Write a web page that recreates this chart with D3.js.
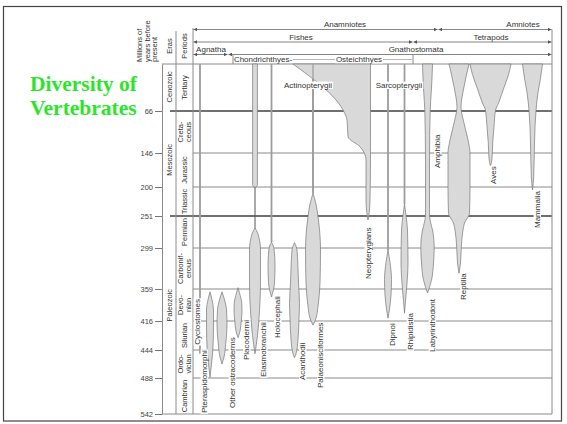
<!DOCTYPE html>
<html><head><meta charset="utf-8">
<script src="https://cdn.jsdelivr.net/npm/d3@7"></script>
<style>
html,body{margin:0;padding:0;background:#fff;}
svg{display:block;}
text{font-family:"Liberation Sans",Arial,sans-serif;}
</style></head><body>
<svg id="chart" width="567" height="424"></svg>
<script>
// ---------------- DATA ----------------
const tickAges = [0, 66, 146, 200, 251, 299, 359, 416, 444, 488, 542];
const tickLabels = ["0", "66", "146", "200", "251", "299", "359", "416", "444", "488", "542"];
const eraBoundaries = [66, 251];
const eraNames = ["Cenozoic", "Mesozoic", "Paleozoic"];
const eraLabelAges = [32, 157, 388];
const periodNames = [["Tertiary"], ["Creta-", "ceous"], ["Jurassic"], ["Triassic"], ["Permian"],
  ["Carbonif-", "erous"], ["Devo-", "nian"], ["Silurian"], ["Ordo-", "vician"], ["Cambrian"]];
const periodSpans = [[0, 66], [66, 146], [146, 200], [200, 251], [251, 299], [299, 359], [359, 416], [416, 444], [444, 488], [488, 542]];

// header groupings (in column units)
const headerNames = ["Anamniotes", "Amniotes", "Fishes", "Tetrapods", "Agnatha", "Gnathostomata"];
const headerRows = [0, 0, 1, 1, 2, 2];
const headerFrom = [0, 245, 0, 220, 0, 35];
const headerTo = [245, 359, 220, 359, 35, 359];
const headerLabelAt = [152, 330, 108, 298, 18, 223];

// lineages
const lineageNames = ["Cyclostomes", "Pteraspidomorphi", "Other ostracoderms", "Placodermi", "Elasmobranchii",
  "Holocephali", "Acanthodii", "Palaeonisciformes", "Neopterygians", "Dipnoi", "Rhipidistia",
  "Labyrinthodont", "Reptilia", "Aves", "Mammalia"];
const lineageColumn = [7, 17, 29, 45, 62, 78.5, 101.5, 120, 175, 195, 211.5, 234.5, 266, 297.5, 339.5];

// thin stem lines [from Ma, to Ma]
const stemNames = ["Cyclostomes", "Holocephali", "Palaeonisciformes", "Dipnoi", "Rhipidistia"];
const stemRanges = [[0, 450], [0, 290], [0, 211], [0, 302], [0, 230]];

// diversity profiles: [age Ma, half-width] (or [age, left, right])
const profPteraspidomorphi = [[364, 0], [378, 2], [396, 3.5], [422, 3.5], [444, 2.8], [466, 1.5], [487, 0]];
const profOstracoderms = [[364, 0], [375, 2], [396, 4.5], [420, 5], [437, 3.8], [455, 2], [466, 0]];
const profPlacodermi = [[357, 0], [366, 1.5], [385, 3.8], [400, 4], [416, 3.2], [426, 2], [432, 0]];
const profElasmoModern = [[0, 2.4], [196, 2.4], [199, 1.6], [200.5, 0]];
const profElasmobranchii = [[269, 0], [277, 2.8], [302, 5.5], [350, 5.5], [411, 4], [430, 2.5], [450, 0]];
const profHolocephali = [[290, 0], [300, 2.5], [324, 3.5], [350, 3], [373, 0]];
const profAcanthodii = [[291, 0], [302, 2.5], [350, 4], [385, 5], [411, 4.5], [434, 3.5], [450, 1.5], [456, 0]];
const profPalaeonisciformes = [[211, 0], [230, 3], [252, 5], [302, 7.5], [350, 7], [390, 5], [411, 3], [420, 0]];
const profNeopterygians = [[0, 75, 2.5], [64.6, 25, 2.5], [83, 21, 2.5], [115, 20, 2.5], [134, 8, 2.5], [157, 2, 2.5], [223, 2, 2], [245, 1.2, 1.2], [257, 0, 0]];
const profDipnoi = [[302, 0], [320, 2], [345, 3.5], [370, 3], [395, 1.5], [411, 0]];
const profRhipidistia = [[230, 0], [250, 1.5], [272, 3], [321, 3.5], [340, 3], [361, 2], [380, 1], [402, 0]];
const profAmphibia = [[0, 5], [20, 4.5], [41, 3.7], [65, 2.7], [159, 2], [240, 2], [250, 2], [262, 3.3], [272, 5], [298, 6.7], [321, 6], [346, 4], [366, 0]];
const profReptilia = [[0, 10], [32, 5], [61, 2], [77, 3.5], [121, 9], [146, 11], [200, 11], [246, 10.5], [261.5, 5.5], [272, 4], [297.5, 2.3], [321, 1.5], [336, 0]];
const profAves = [[0, 20.5], [15, 18], [35, 13], [55, 8], [65, 5], [96, 3.5], [127, 2.2], [155, 1.5], [167, 0]];
const profMammalia = [[0, 10], [20, 8], [40, 5.5], [65, 3.5], [127, 2], [184, 1.2], [205, 0]];

// label placement: [name, column, age at label start]
const spindleLabels = [["Cyclostomes", 4, 439], ["Pteraspidomorphi", 11, 540.5], ["Other ostracoderms", 39, 533],
  ["Placodermi", 53.5, 459.7], ["Elasmobranchii", 70.5, 486.4], ["Holocephali", 84.5, 432.4],
  ["Acanthodii", 109.5, 491], ["Palaeonisciformes", 127.5, 503], ["Neopterygians", 175, 344.4],
  ["Dipnoi", 199.5, 440.1], ["Rhipidistia", 217, 444], ["Labyrinthodont", 239, 447.1],
  ["Amphibia", 244.5, 169.8], ["Reptilia", 270.5, 378.6], ["Aves", 300.5, 195.2], ["Mammalia", 344, 269]];

// ---------------- DRAW ----------------
const svg = d3.select("#chart");
const y = d3.scaleLinear().domain(tickAges).range([64, 111, 153, 187, 216, 248, 289, 321, 350, 378, 414]);
const x = d3.scaleLinear().domain([0, 359]).range([193, 552]);
const w = v => x(v) - x(0);
const LINE = "#8a8a8a";

function label(g, txt, px, py, rot, anchor, size, bg) {
  const lg = g.append("g").attr("transform", `translate(${px},${py})` + (rot ? " rotate(-90)" : ""));
  const r = lg.append("rect").attr("fill", "#fff");
  const t = lg.append("text").attr("text-anchor", anchor).attr("dy", "0.35em")
    .style("font-size", size + "px").attr("fill", "#333").text(txt);
  if (bg) {
    const b = t.node().getBBox();
    r.attr("x", b.x - 0.8).attr("y", b.y + 0.8).attr("width", b.width + 1.6).attr("height", Math.max(0, b.height - 1.6));
  } else r.remove();
  return lg;
}

// frame
svg.append("rect").attr("x", 3.5).attr("y", 6.5).attr("width", 558).attr("height", 414.5)
  .attr("fill", "none").attr("stroke", "#444").attr("stroke-width", 1.2);

// title
const title = svg.append("text").attr("fill", "#2be52b")
  .style("font-family", "'Liberation Serif','Times New Roman',serif").style("font-weight", "bold").style("font-size", "21.5px");
title.append("tspan").attr("x", 30).attr("y", 90.5).text("Diversity of");
title.append("tspan").attr("x", 30).attr("y", 114.5).text("Vertebrates");

// grid lines
const grid = svg.append("g");
tickAges.slice(1, -1).forEach(a => {
  const major = eraBoundaries.includes(a);
  grid.append("line").attr("x1", major ? 170 : x(0)).attr("x2", x(359))
    .attr("y1", y(a)).attr("y2", y(a))
    .attr("stroke", major ? "#707070" : LINE).attr("stroke-width", major ? 2.2 : 1);
});
grid.append("line").attr("x1", 162).attr("x2", x(359)).attr("y1", y(542)).attr("y2", y(542)).attr("stroke", LINE);
grid.append("line").attr("x1", 162).attr("x2", x(359)).attr("y1", y(0)).attr("y2", y(0)).attr("stroke", LINE);

// vertical structure lines
[[176, 31], [x(0), 28], [x(359), 29.5]].forEach(([vx, top]) => {
  grid.append("line").attr("x1", vx).attr("x2", vx).attr("y1", top).attr("y2", y(542)).attr("stroke", LINE);
});

// axis
const axis = d3.axisLeft(y).tickValues(tickAges.slice(1)).tickFormat((d) => tickLabels[tickAges.indexOf(d)])
  .tickSize(7).tickSizeOuter(0).tickPadding(2);
const ag = svg.append("g").attr("transform", "translate(162,0)").call(axis);
ag.select(".domain").attr("stroke", LINE);
ag.selectAll(".tick line").attr("stroke", "#777");
ag.selectAll(".tick text").style("font-size", "7.5px").attr("fill", "#444").style("font-family", "'Liberation Sans',Arial,sans-serif");

// column headers
const hg = svg.append("g");
label(hg, "Eras", 169.5, 46, true, "middle", 7.5, false);
label(hg, "Periods", 184.5, 46, true, "middle", 7.5, false);
["Millions of", "years before", "present"].forEach((t, i) => label(hg, t, 139.5 + i * 7.5, 62, true, "start", 7.5, false));

// eras
eraNames.forEach((n, i) => label(hg, n, 169.5, y(eraLabelAges[i]), true, "middle", 7.5, false));
// periods
periodNames.forEach((lines, i) => {
  const cy = (y(periodSpans[i][0]) + y(periodSpans[i][1])) / 2;
  if (lines.length === 1) label(hg, lines[0], 184.5, cy, true, "middle", 7.5, false);
  else lines.forEach((l, j) => label(hg, l, 180.8 + j * 7.4, cy, true, "middle", 7.5, false));
});

// header arrows
const defs = svg.append("defs");
defs.append("marker").attr("id", "ah").attr("viewBox", "0 0 10 10").attr("refX", 10).attr("refY", 5)
  .attr("markerUnits", "userSpaceOnUse").attr("markerWidth", 4.5).attr("markerHeight", 3.5)
  .attr("orient", "auto-start-reverse").append("path").attr("d", "M0,0L10,5L0,10z").attr("fill", "#555");
const rowY = [29.5, 42, 54.5];
headerNames.forEach((n, i) => {
  const ry = rowY[headerRows[i]];
  hg.append("line").attr("x1", x(headerFrom[i]) + 0.5).attr("x2", x(headerTo[i]) - 0.5).attr("y1", ry).attr("y2", ry)
    .attr("stroke", "#666").attr("stroke-width", 0.8)
    .attr("marker-start", "url(#ah)").attr("marker-end", "url(#ah)");
  hg.append("text").attr("x", x(headerLabelAt[i])).attr("y", ry - 2.2).attr("text-anchor", "middle")
    .style("font-size", "8px").attr("fill", "#333").text(n);
});
// row 4: Chondrichthyes / Osteichthyes / tetrapod box
[40, 220].forEach(c => hg.append("line").attr("x1", x(c)).attr("x2", x(c)).attr("y1", 54.5).attr("y2", 64).attr("stroke", LINE));
hg.append("line").attr("x1", x(100)).attr("x2", x(219)).attr("y1", 59.5).attr("y2", 59.5).attr("stroke", "#999").attr("stroke-width", 0.7);
hg.append("text").attr("x", x(70)).attr("y", 62.3).attr("text-anchor", "middle").style("font-size", "8px").attr("fill", "#333").text("Chondrichthyes-");
label(hg, "Osteichthyes", x(166), 59.5, false, "middle", 8, true);

// lineages
const lg = svg.append("g");
const FILL = "#d9d9d9", STROKE = "#777";
const col = n => x(lineageColumn[lineageNames.indexOf(n)]);
stemNames.forEach((n, i) => {
  lg.append("line").attr("x1", col(n)).attr("x2", col(n)).attr("y1", y(stemRanges[i][0])).attr("y2", y(stemRanges[i][1]))
    .attr("stroke", "#9c9c9c").attr("stroke-width", 1.8);
});
// elasmobranch connector
lg.append("line").attr("x1", col("Elasmobranchii")).attr("x2", col("Elasmobranchii"))
  .attr("y1", y(200)).attr("y2", y(270)).attr("stroke", "#555").attr("stroke-width", 1);

function spindle(name, prof) {
  const cx = col(name);
  const area = d3.area().curve(d3.curveMonotoneY)
    .y(d => y(d[0]))
    .x0(d => cx - w(d[1]))
    .x1(d => cx + w(d.length > 2 ? d[2] : d[1]));
  lg.append("path").attr("d", area(prof)).attr("fill", FILL).attr("stroke", STROKE).attr("stroke-width", 0.7);
}
spindle("Pteraspidomorphi", profPteraspidomorphi);
spindle("Other ostracoderms", profOstracoderms);
spindle("Placodermi", profPlacodermi);
spindle("Elasmobranchii", profElasmoModern);
spindle("Elasmobranchii", profElasmobranchii);
spindle("Holocephali", profHolocephali);
spindle("Acanthodii", profAcanthodii);
spindle("Palaeonisciformes", profPalaeonisciformes);
spindle("Neopterygians", profNeopterygians);
// palaeonisciform stem visible across the actinopterygian field
lg.append("line").attr("x1", col("Palaeonisciformes")).attr("x2", col("Palaeonisciformes"))
  .attr("y1", y(0)).attr("y2", y(211)).attr("stroke", "#9c9c9c").attr("stroke-width", 1.2);
spindle("Dipnoi", profDipnoi);
spindle("Rhipidistia", profRhipidistia);
spindle("Labyrinthodont", profAmphibia);
spindle("Reptilia", profReptilia);
spindle("Aves", profAves);
spindle("Mammalia", profMammalia);

// group labels
const tg = svg.append("g");
label(tg, "Actinopterygii", 308, 85, false, "middle", 8, true);
label(tg, "Sarcopterygii", 399, 85, false, "middle", 8, true);
spindleLabels.forEach(([n, c, a]) => label(tg, n, x(c), y(a), true, "start", 8, true));
</script>
</body></html>
